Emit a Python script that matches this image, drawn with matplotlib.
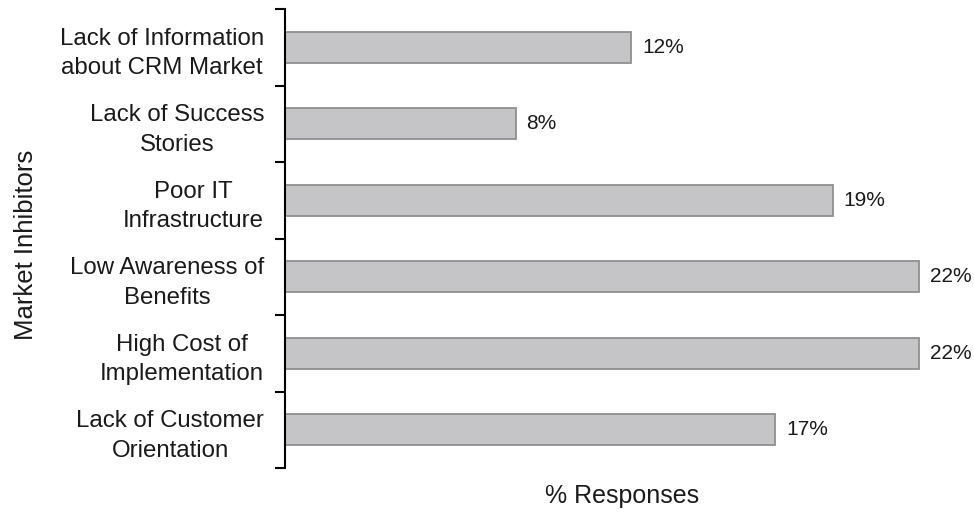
import numpy as np
import matplotlib.pyplot as plt

plt.rcParams['font.family'] = ['Liberation Sans', 'DejaVu Sans']

# Survey results: market inhibitors for CRM
inhibitors = [
    "Lack of Information\nabout CRM Market",
    "Lack of Success\nStories",
    "Poor IT\nInfrastructure",
    "Low Awareness of\nBenefits",
    "High Cost of\nImplementation",
    "Lack of Customer\nOrientation",
]
responses = [12, 8, 19, 22, 22, 17]

fig = plt.figure(figsize=(9.74, 5.29), dpi=100)
ax = fig.add_axes([285 / 974, 1 - 468 / 529, 1 - 285 / 974, 459 / 529])

y = np.arange(len(inhibitors))
ax.barh(y, responses, height=0.4, color="#c5c4c7", edgecolor="#8f8f8f",
        linewidth=1.3, zorder=2)

for yi, v in zip(y, responses):
    ax.text(v + 0.38, yi, f"{v}%", va="center", ha="left",
            fontsize=15, color="#1a1a1a")

ax.set_xlim(0, 23.9)
ax.set_ylim(len(inhibitors) - 0.5, -0.5)

# category labels sit between the boundary ticks
ax.set_yticks(y)
ax.set_yticklabels(inhibitors, fontsize=17.3, color="#1a1a1a",
                   multialignment="center", linespacing=1.45)
ax.tick_params(axis="y", which="major", length=0, pad=15)
ax.set_yticks(np.arange(len(inhibitors) + 1) - 0.5, minor=True)
ax.tick_params(axis="y", which="minor", length=7.2, width=1.5, color="black")

ax.set_xticks([])
for side in ["top", "right", "bottom"]:
    ax.spines[side].set_visible(False)
ax.spines["left"].set_linewidth(1.5)
ax.spines["left"].set_color("black")

fig.text(26 / 974, 1 - 245 / 529, "Market Inhibitors", rotation=90,
         ha="center", va="center", fontsize=18.5, color="#1a1a1a")
fig.text(622 / 974, 1 - 496 / 529, "% Responses", ha="center", va="center",
         fontsize=18, color="#1a1a1a")

fig.savefig("out.png", dpi=100, facecolor="white")
